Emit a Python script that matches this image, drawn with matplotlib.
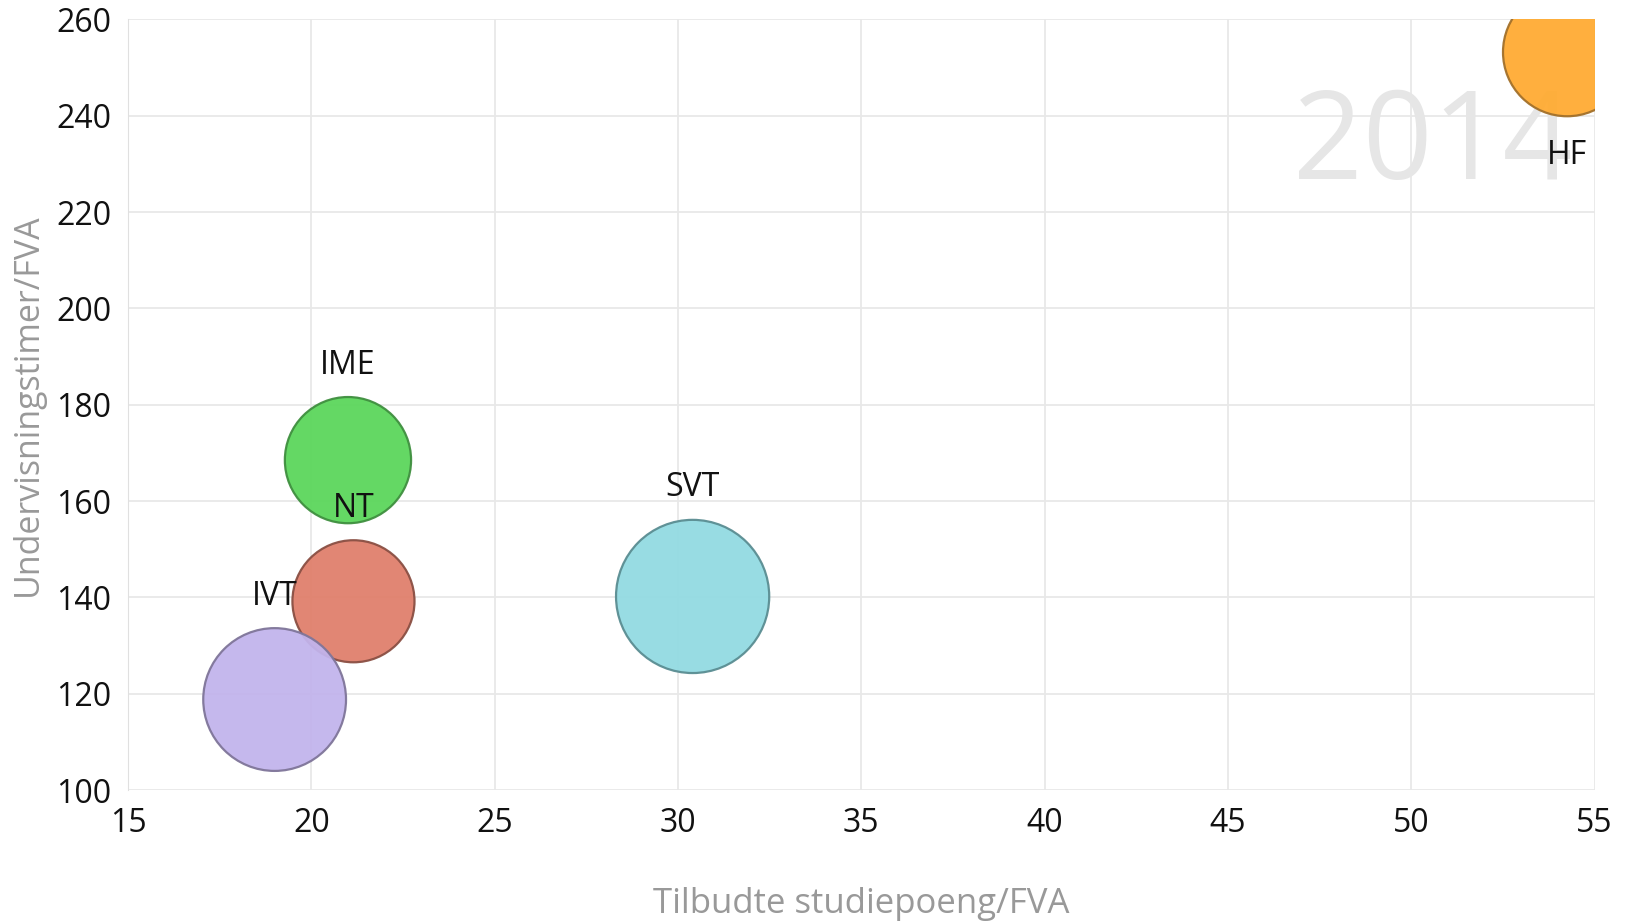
import numpy as np
import matplotlib.pyplot as plt

# Data
units = ["IME", "NT", "IVT", "SVT", "HF"]
studiepoeng = [21.0, 21.15, 19.0, 30.4, 54.25]        # Tilbudte studiepoeng/FVA
timer = [168.5, 139.2, 118.8, 140.2, 253.2]           # Undervisningstimer/FVA
bubble = [3720, 3480, 4760, 5480, 3840]               # relative bubble areas
colors = ["#5cd65c", "#e0806c", "#c2b4ec", "#93dbe2", "#ffab33"]
edges = ["#3f8f3f", "#8a4f43", "#7f7599", "#5a8d92", "#a2702a"]
label_below = [False, False, False, False, True]
year = "2014"

plt.rcParams['font.family'] = ['Open Sans', 'DejaVu Sans']

fig = plt.figure(figsize=(16.26, 9.23), dpi=100)
ax = fig.add_axes([0.0787, 0.144, 0.902, 0.835])

# bubble area -> marker area in pt^2
scale = 2.22
sizes = [b * scale for b in bubble]
ax.scatter(studiepoeng, timer, s=sizes, c=colors, edgecolors=edges,
           linewidths=1.6, alpha=0.95, zorder=3)

for name, x, y, s, below in zip(units, studiepoeng, timer, sizes, label_below):
    off = np.sqrt(s) / 2 + 23
    if below:
        off = -(off + 5)
    ax.annotate(name, (x, y), xytext=(0, off), textcoords="offset points",
                ha="center", va="center", fontsize=23, color="#111111", zorder=4)

ax.text(0.985, 0.835, year, transform=ax.transAxes, ha="right", va="center",
        fontsize=88, color="#e6e6e6", zorder=1)

ax.set_xlim(15, 55)
ax.set_ylim(100, 260)
ax.set_xticks(range(15, 56, 5))
ax.set_yticks(range(100, 261, 20))
ax.grid(True, color="#e8e8e8", linewidth=1.3, zorder=0)
ax.set_axisbelow(True)
for side in ["top", "right", "bottom"]:
    ax.spines[side].set_visible(False)
ax.spines["left"].set_color("#e0e0e0")
ax.tick_params(length=0, labelsize=23, labelcolor="#111111")
ax.tick_params(axis="x", pad=12)
ax.tick_params(axis="y", pad=12)

ax.set_xlabel("Tilbudte studiepoeng/FVA", fontsize=25, color="#999999", labelpad=34)
ax.set_ylabel("Undervisningstimer/FVA", fontsize=24.5, color="#999999", labelpad=8)

fig.savefig("out.png", dpi=100)
